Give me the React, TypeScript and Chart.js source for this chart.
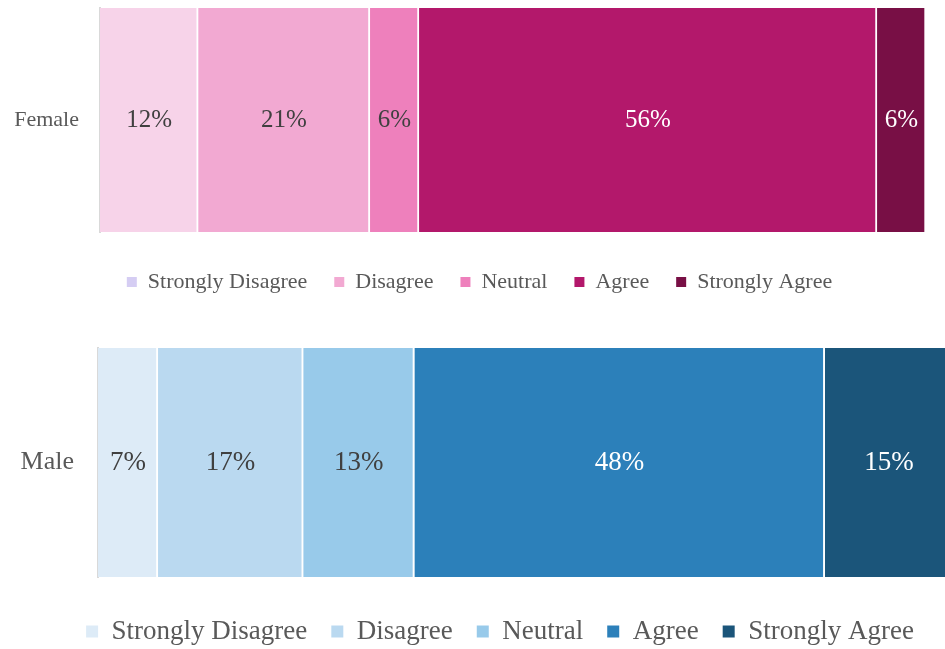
import React, { useEffect, useRef } from "react";
import { Chart, registerables } from "chart.js";

Chart.register(...registerables);

// ---- data ----
const responseLevels = ["Strongly Disagree", "Disagree", "Neutral", "Agree", "Strongly Agree"];

const femaleCategory = ["Female"];
const femaleValues = [12, 21, 6, 56, 6];

const maleCategory = ["Male"];
const maleValues = [7, 17, 13, 48, 15];

// ---- styles ----
const FONT = '"Liberation Serif", "Times New Roman", serif';
const femaleBarColors = ["#F7D3E9", "#F2A9D2", "#EE80BC", "#B3186B", "#780F45"];
const femaleLegendColors = ["#D5CDF3", "#F2A9D2", "#EE80BC", "#B3186B", "#780F45"];
const maleBarColors = ["#DDEBF7", "#BAD9F0", "#98CAEA", "#2C80BA", "#1B557A"];
const labelColors = ["#404040", "#404040", "#404040", "#FFFFFF", "#FFFFFF"];

type Cfg = {
  category: string[];
  values: number[];
  barColors: string[];
  legendColors: string[];
  xMax: number;
  width: number;
  height: number;
  top: number;
  padTop: number;
  leftAxis: number;
  rightAxis: number;
  catFont: number;
  catPad: number;
  valueFont: number;
  legendFont: number;
  legendBox: number;
  legendPad: number;
  xGap: number;
};

function StackedBar(cfg: Cfg) {
  const ref = useRef<HTMLCanvasElement | null>(null);
  useEffect(() => {
    if (!ref.current) return;
    const labelPlugin = {
      id: "segLabels",
      afterDatasetsDraw(chart: any) {
        const ctx = chart.ctx;
        ctx.save();
        ctx.font = `${cfg.valueFont}px ${FONT}`;
        ctx.textAlign = "center";
        ctx.textBaseline = "middle";
        chart.data.datasets.forEach((ds: any, di: number) => {
          const meta = chart.getDatasetMeta(di);
          meta.data.forEach((el: any, i: number) => {
            ctx.fillStyle = labelColors[di];
            ctx.fillText(`${ds.data[i]}%`, (el.x + el.base) / 2, el.y);
          });
        });
        ctx.restore();
      },
    };
    const chart = new Chart(ref.current, {
      type: "bar",
      data: {
        labels: cfg.category,
        datasets: responseLevels.map((name, i) => ({
          label: name,
          data: [cfg.values[i]],
          backgroundColor: cfg.barColors[i],
          borderColor: "#FFFFFF",
          borderWidth: { right: 2, left: 0, top: 0, bottom: 0 },
          borderSkipped: false,
          barPercentage: 1,
          categoryPercentage: 1,
        })),
      },
      options: {
        indexAxis: "y",
        responsive: false,
        animation: false,
        events: [],
        layout: { padding: { top: cfg.padTop, left: 0, right: 0, bottom: 0 } },
        scales: {
          x: {
            stacked: true,
            min: 0,
            max: cfg.xMax,
            display: true,
            grid: { display: false },
            border: { display: false },
            ticks: { display: false },
            afterFit: (s: any) => {
              s.height = cfg.xGap;
              s.paddingLeft = 0;
              s.paddingRight = 0;
            },
          },
          y: {
            stacked: true,
            position: "left",
            grid: { display: false, drawTicks: false },
            border: { display: true, color: "#D9D9D9", width: 2 },
            ticks: {
              padding: cfg.catPad,
              color: "#595959",
              font: { family: FONT, size: cfg.catFont },
            },
            afterFit: (s: any) => {
              s.width = cfg.leftAxis;
              s.paddingTop = 0;
              s.paddingBottom = 0;
            },
          },
          yRight: {
            type: "category",
            position: "right",
            display: true,
            grid: { display: false, drawTicks: false },
            border: { display: false },
            ticks: { display: false },
            afterFit: (s: any) => {
              s.width = cfg.rightAxis;
              s.paddingTop = 0;
              s.paddingBottom = 0;
            },
          },
        } as any,
        plugins: {
          tooltip: { enabled: false },
          legend: {
            display: true,
            position: "bottom",
            labels: {
              color: "#595959",
              font: { family: FONT, size: cfg.legendFont },
              boxWidth: cfg.legendBox,
              boxHeight: cfg.legendBox,
              padding: cfg.legendPad,
              generateLabels: (chart: any) => {
                const items = Chart.defaults.plugins.legend.labels.generateLabels(chart);
                return items.map((it: any, i: number) => ({
                  ...it,
                  fillStyle: cfg.legendColors[i],
                  strokeStyle: cfg.legendColors[i],
                  lineWidth: 0,
                }));
              },
            },
          },
        },
      },
      plugins: [labelPlugin],
    } as any);
    return () => chart.destroy();
  }, []);
  return (
    <canvas
      ref={ref}
      width={cfg.width}
      height={cfg.height}
      style={{ position: "absolute", left: 0, top: cfg.top, width: cfg.width, height: cfg.height }}
    />
  );
}

export default function App() {
  return (
    <div
      style={{
        position: "fixed",
        left: 0,
        top: 0,
        width: 945,
        height: 649,
        overflow: "hidden",
        background: "#FFFFFF",
      }}
    >
      <StackedBar
        category={femaleCategory}
        values={femaleValues}
        barColors={femaleBarColors}
        legendColors={femaleLegendColors}
        xMax={101}
        width={959}
        height={303}
        top={0}
        padTop={8}
        leftAxis={100}
        rightAxis={33}
        catFont={22}
        catPad={21}
        valueFont={25}
        legendFont={22}
        legendBox={10}
        legendPad={27}
        xGap={12}
      />
      <StackedBar
        category={maleCategory}
        values={maleValues}
        barColors={maleBarColors}
        legendColors={maleBarColors}
        xMax={100}
        width={1000}
        height={335}
        top={320}
        padTop={28}
        leftAxis={98}
        rightAxis={47}
        catFont={26}
        catPad={24}
        valueFont={27}
        legendFont={27}
        legendBox={12}
        legendPad={24}
        xGap={17}
      />
    </div>
  );
}
